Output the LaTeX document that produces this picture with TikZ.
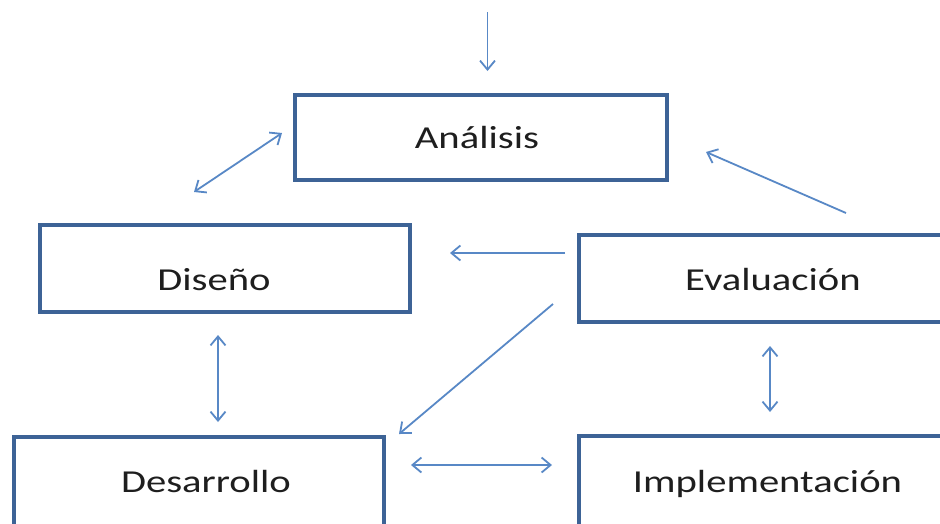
\documentclass[tikz,border=0pt]{standalone}
\usepackage{fontspec}
\setmainfont{Carlito}[FakeStretch=1.27]
\usetikzlibrary{arrows.meta}

\definecolor{boxline}{RGB}{61,99,150}
\definecolor{flow}{RGB}{88,136,198}
\definecolor{ink}{RGB}{30,30,30}

\tikzset{
  stagebox/.style={draw=boxline, line width=4pt, minimum width=#1,
    minimum height=86pt, inner sep=0pt, outer sep=0pt},
  stagebox/.default=370pt,
  stagelabel/.style={anchor=base, text=ink, inner sep=0pt,
    font=\fontsize{32}{38}\selectfont},
  link/.style={draw=flow, line width=1.8pt, -{Straight Barb[length=9pt,width=15pt]}},
  twoway/.style={draw=flow, line width=1.8pt,
    {Straight Barb[length=9pt,width=15pt]}-{Straight Barb[length=9pt,width=15pt]}},
}

\begin{document}
\begin{tikzpicture}[x=1pt, y=-1pt]
  \useasboundingbox (0,0) rectangle (940,523);
  \fill[white] (0,0) rectangle (940,523);
  \clip (0,0) rectangle (940,523);

  % stage boxes (the right and bottom ones run past the frame)
  \node[stagebox=372pt, minimum height=85pt] (ana) at (481,137.5) {};
  \node[stagebox=370pt, minimum height=87pt] (dis) at (224.5,268) {};
  \node[stagebox=368pt, minimum height=87pt] (eva) at (763,278.5) {};
  \node[stagebox=370pt, minimum height=100pt] (des) at (199,487) {};
  \node[stagebox=368pt, minimum height=100pt] (imp) at (763,486) {};

  % stage names
  \node[stagelabel] (ana-t) at (477,148) {Análisis};
  \node[stagelabel] (dis-t) at (214,290) {Diseño};
  \node[stagelabel] (eva-t) at (773,290) {Evaluación};
  \node[stagelabel] (des-t) at (206,492) {Desarrollo};
  \node[stagelabel] (imp-t) at (767.5,492) {Implementación};

  % arrow end points
  \coordinate (in-a) at (487.5,12);
  \coordinate (in-b) at (487.5,71);
  \coordinate (ad-a) at (282,133);
  \coordinate (ad-b) at (194,192);
  \coordinate (ea-a) at (846,213);
  \coordinate (ea-b) at (706,152);
  \coordinate (ed-a) at (565,253);
  \coordinate (ed-b) at (450,253);
  \coordinate (ex-a) at (553,304);
  \coordinate (ex-b) at (399,434);
  \coordinate (dd-a) at (218,335);
  \coordinate (dd-b) at (218,422);
  \coordinate (ei-a) at (770,346);
  \coordinate (ei-b) at (770,412);
  \coordinate (di-a) at (411,465);
  \coordinate (di-b) at (552,465);

  % connectors
  \draw[link]   (in-a) -- (in-b);
  \draw[twoway] (ad-a) -- (ad-b);
  \draw[link]   (ea-a) -- (ea-b);
  \draw[link]   (ed-a) -- (ed-b);
  \draw[link]   (ex-a) -- (ex-b);
  \draw[twoway] (dd-a) -- (dd-b);
  \draw[twoway] (ei-a) -- (ei-b);
  \draw[twoway] (di-a) -- (di-b);
\end{tikzpicture}
\end{document}
